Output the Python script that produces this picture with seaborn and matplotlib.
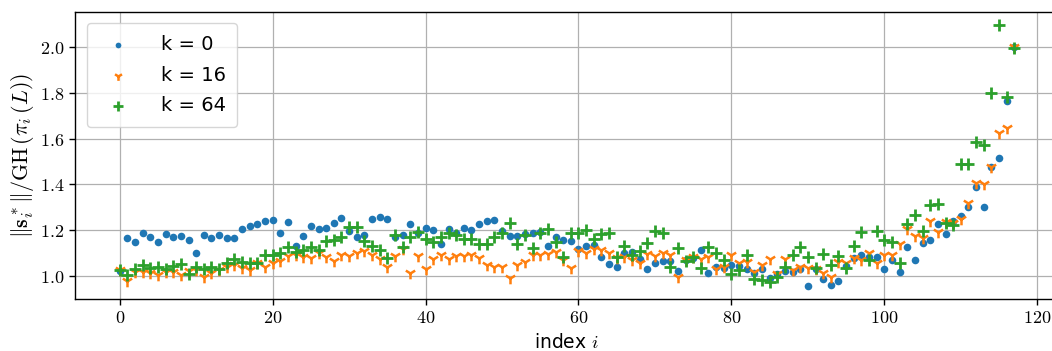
import numpy as np
import pandas as pd
import matplotlib
matplotlib.use("Agg")
import matplotlib.pyplot as plt
from matplotlib.ticker import FuncFormatter
import seaborn as sns

# Normalised Gram-Schmidt lengths per basis index, for three reduction depths
k_labels = ["k = 0", "k = 16", "k = 64"]

gs_k0 = [
    1.020, 1.164, 1.147, 1.187, 1.171, 1.150, 1.185, 1.171, 1.173, 1.157,
    1.100, 1.177, 1.168, 1.180, 1.168, 1.164, 1.204, 1.217, 1.227, 1.241,
    1.246, 1.186, 1.235, 1.130, 1.174, 1.217, 1.206, 1.209, 1.232, 1.254,
    1.198, 1.170, 1.180, 1.250, 1.256, 1.250, 1.171, 1.177, 1.228, 1.186,
    1.210, 1.200, 1.140, 1.204, 1.190, 1.208, 1.202, 1.227, 1.240, 1.246,
    1.198, 1.176, 1.174, 1.183, 1.189, 1.193, 1.130, 1.169, 1.157, 1.153,
    1.119, 1.130, 1.135, 1.084, 1.054, 1.041, 1.102, 1.104, 1.075, 1.029,
    1.055, 1.067, 1.065, 1.023, 1.070, 1.078, 1.112, 1.013, 1.038, 1.033,
    1.048, 1.045, 1.031, 1.012, 1.029, 0.990, 1.010, 1.020, 1.018, 1.029,
    0.956, 1.030, 0.985, 0.961, 0.980, 1.044, 1.080, 1.092, 1.081, 1.084,
    1.029, 1.070, 1.019, 1.128, 1.068, 1.145, 1.157, 1.225, 1.185, 1.240,
    1.262, 1.300, 1.387, 1.301, 1.477, 1.513, 1.763, 2.000,
]

gs_k16 = [
    1.026, 0.978, 1.019, 1.019, 1.015, 1.004, 1.019, 1.019, 1.004, 1.023,
    1.025, 0.997, 1.012, 1.026, 1.041, 1.048, 1.033, 1.026, 1.055, 1.038,
    1.056, 1.065, 1.087, 1.092, 1.084, 1.080, 1.102, 1.084, 1.065, 1.092,
    1.087, 1.102, 1.109, 1.092, 1.073, 1.041, 1.087, 1.116, 1.012, 1.087,
    1.029, 1.074, 1.092, 1.074, 1.087, 1.087, 1.092, 1.077, 1.048, 1.038,
    1.038, 0.990, 1.048, 1.063, 1.092, 1.092, 1.096, 1.106, 1.070, 1.033,
    1.110, 1.099, 1.117, 1.113, 1.102, 1.077, 1.081, 1.070, 1.058, 1.096,
    1.087, 1.102, 1.092, 0.997, 1.070, 1.081, 1.074, 1.081, 1.029, 1.038,
    1.092, 1.055, 1.063, 1.019, 1.048, 1.074, 1.007, 1.074, 1.026, 1.038,
    1.033, 1.029, 1.012, 0.994, 1.063, 1.058, 1.077, 1.070, 1.099, 1.055,
    1.092, 1.092, 1.140, 1.206, 1.176, 1.164, 1.241, 1.193, 1.234, 1.233,
    1.249, 1.317, 1.407, 1.401, 1.474, 1.622, 1.644, 2.000,
]

gs_k64 = [
    1.026, 1.004, 1.029, 1.048, 1.033, 1.041, 1.029, 1.044, 1.052, 1.007,
    1.038, 1.029, 1.038, 1.029, 1.058, 1.073, 1.063, 1.058, 1.055, 1.092,
    1.092, 1.102, 1.128, 1.106, 1.113, 1.125, 1.113, 1.154, 1.157, 1.169,
    1.212, 1.212, 1.153, 1.131, 1.113, 1.080, 1.179, 1.128, 1.172, 1.193,
    1.160, 1.150, 1.172, 1.189, 1.179, 1.160, 1.160, 1.140, 1.140, 1.169,
    1.190, 1.230, 1.138, 1.179, 1.124, 1.189, 1.204, 1.150, 1.084, 1.189,
    1.186, 1.200, 1.160, 1.183, 1.189, 1.084, 1.131, 1.092, 1.110, 1.145,
    1.198, 1.186, 1.038, 1.124, 1.067, 1.081, 1.033, 1.128, 1.102, 1.070,
    1.009, 1.026, 1.092, 0.985, 0.983, 0.975, 0.994, 1.038, 1.092, 1.125,
    1.081, 1.033, 1.096, 1.048, 1.087, 1.033, 1.131, 1.193, 1.070, 1.198,
    1.157, 1.150, 1.058, 1.228, 1.266, 1.198, 1.310, 1.314, 1.230, 1.222,
    1.488, 1.488, 1.586, 1.571, 1.797, 2.096, 1.779, 1.997,
]

x_ticks = [0, 20, 40, 60, 80, 100, 120]
y_ticks = [1.0, 1.2, 1.4, 1.6, 1.8, 2.0]

index = np.arange(len(gs_k0))
df = pd.DataFrame({
    "index": np.tile(index, 3),
    "ratio": np.concatenate([gs_k0, gs_k16, gs_k64]),
    "k": np.repeat(k_labels, len(index)),
})

plt.rcParams["mathtext.fontset"] = "cm"
plt.rcParams["font.family"] = ["DejaVu Sans"]

fig = plt.figure(figsize=(10.52, 3.51), dpi=100)
ax = fig.add_axes([0.0713, 0.148, 0.9354, 0.8185])
ax.set_axisbelow(True)
ax.grid(True, color="#b0b0b0", linewidth=0.9)

styles = {
    "k = 0": dict(marker="o", s=30, color="#1f77b4", linewidth=0),
    "k = 16": dict(marker="1", s=70, color="#ff7f0e", linewidth=1.8),
    "k = 64": dict(marker="+", s=80, color="#2ca02c", linewidth=2.0),
}
for lab in k_labels:
    sub = df[df["k"] == lab]
    sns.scatterplot(data=sub, x="index", y="ratio", ax=ax, label=lab, **styles[lab])

ax.set_xlim(-5.85, 122.85)
ax.set_ylim(0.8997, 2.153)
ax.set_xticks(x_ticks)
ax.set_yticks(y_ticks)
ax.xaxis.set_major_formatter(FuncFormatter(lambda v, p: f"${v:.0f}$"))
ax.yaxis.set_major_formatter(FuncFormatter(lambda v, p: f"${v:.1f}$"))
ax.tick_params(axis="both", labelsize=13, length=4, width=1, color="black")
for sp in ax.spines.values():
    sp.set_color("black")
    sp.set_linewidth(1.0)

ax.set_xlabel("index $i$", fontsize=13.5, labelpad=4)
ax.set_ylabel(r"$\|\mathbf{s}_i^*\|/\mathrm{GH}\,(\pi_i\,(L))$", fontsize=15.8, labelpad=3)

leg = ax.legend(loc="upper left", fontsize=14, markerscale=0.75, frameon=True,
                borderpad=0.6, handletextpad=1.2, labelspacing=0.6,
                borderaxespad=0.6)
leg.get_frame().set_edgecolor("#cccccc")

fig.savefig("out.png", dpi=100)
